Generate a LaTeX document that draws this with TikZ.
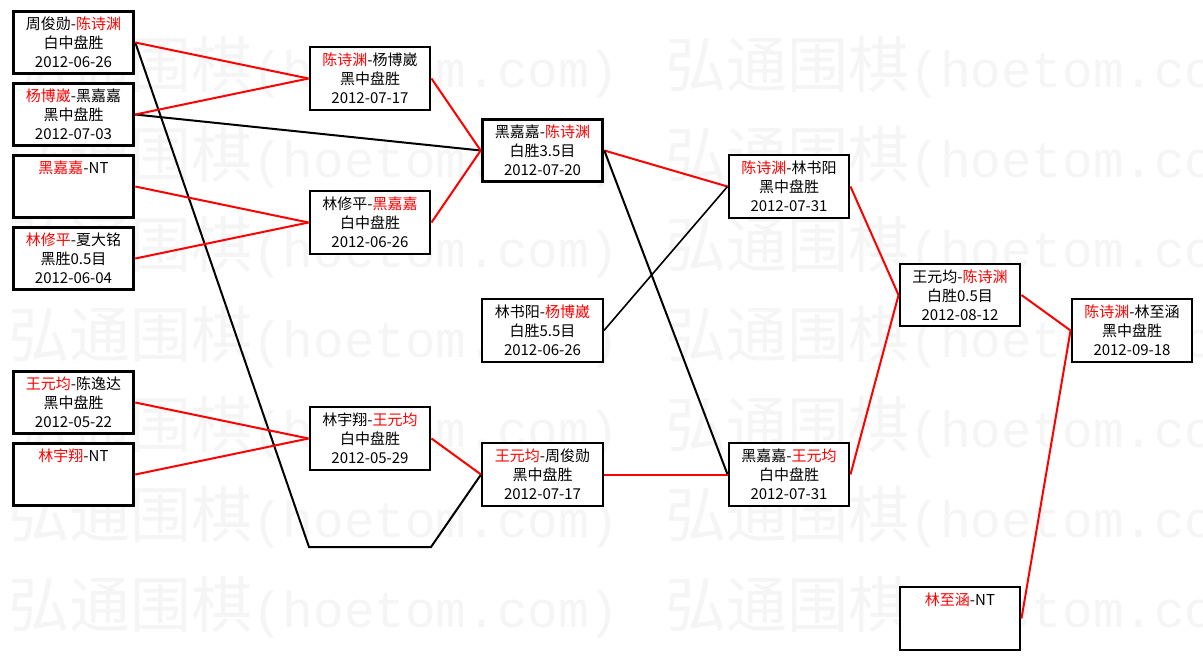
\documentclass[tikz,border=0pt]{standalone}
\usepackage{fontspec}
\setmainfont{Noto Sans CJK SC}
\newfontfamily\wmmono{Liberation Mono}
\definecolor{wred}{RGB}{255,0,0}
\definecolor{wmark}{RGB}{245,245,245}
\newcommand{\rn}[1]{\textcolor{wred}{#1}}
\newcommand{\wmtile}{弘通围棋{\wmmono\fontsize{38.25pt}{40pt}\selectfont(hoetom.com)}}
\begin{document}
\begin{tikzpicture}[x=0.75pt,y=-0.75pt,
  mbox/.style={draw=black, fill=white, line width=1.7pt, minimum width=90.5pt, minimum height=47pt,
    inner sep=0pt, align=center, font=\fontsize{11.25pt}{14.25pt}\selectfont},
  tbox/.style={mbox, line width=2.2pt},
  rl/.style={draw=wred, line width=1.5pt},
  bl/.style={draw=black, line width=1.5pt, line join=miter},
  wmtext/.style={anchor=west, text=wmark, inner sep=0pt, font=\fontsize{45.75pt}{50pt}\selectfont}
]
\path[fill=white] (0,0) rectangle (1203,661);
\useasboundingbox (0,0) rectangle (1203,661);

% watermark
\foreach \i/\yy in {1/67,2/157,3/247,4/337,5/427,6/517,7/607}
  \node[wmtext] (wm\i) at (8,\yy) {\wmtile\hspace{34.5pt}\wmtile};

% column A
\node[tbox] (a1) at (73.5,42.5) {周俊勋-\rn{陈诗渊}\\白中盘胜\\2012-06-26};
\node[tbox] (a2) at (73.5,114.5) {\rn{杨博崴}-黑嘉嘉\\黑中盘胜\\2012-07-03};
\node[tbox] (a3) at (73.5,186.5) {\rn{黑嘉嘉}-NT\\\phantom{白}\\\phantom{白}};
\node[tbox] (a4) at (73.5,258.5) {\rn{林修平}-夏大铭\\黑胜0.5目\\2012-06-04};
\node[tbox] (a5) at (73.5,402.5) {\rn{王元均}-陈逸达\\黑中盘胜\\2012-05-22};
\node[tbox] (a6) at (73.5,474.5) {\rn{林宇翔}-NT\\\phantom{白}\\\phantom{白}};

% column B
\node[mbox] (b1) at (370,78.5) {\rn{陈诗渊}-杨博崴\\黑中盘胜\\2012-07-17};
\node[mbox] (b2) at (370,222.5) {林修平-\rn{黑嘉嘉}\\白中盘胜\\2012-06-26};
\node[mbox] (b3) at (370,438.5) {林宇翔-\rn{王元均}\\白中盘胜\\2012-05-29};

% column C
\node[tbox] (c1) at (542.5,150.5) {黑嘉嘉-\rn{陈诗渊}\\白胜3.5目\\2012-07-20};
\node[mbox] (c2) at (542.5,330.5) {林书阳-\rn{杨博崴}\\白胜5.5目\\2012-06-26};
\node[mbox] (c3) at (542.5,474.5) {\rn{王元均}-周俊勋\\黑中盘胜\\2012-07-17};

% column D
\node[mbox] (d1) at (789,186.5) {\rn{陈诗渊}-林书阳\\黑中盘胜\\2012-07-31};
\node[mbox] (d2) at (789,474.5) {黑嘉嘉-\rn{王元均}\\白中盘胜\\2012-07-31};

% column E
\node[mbox] (e1) at (960,295) {王元均-\rn{陈诗渊}\\白胜0.5目\\2012-08-12};
\node[mbox] (e2) at (960,618.5) {\rn{林至涵}-NT\\\phantom{白}\\\phantom{白}};

% column F
\node[mbox] (f1) at (1132,330.5) {\rn{陈诗渊}-林至涵\\黑中盘胜\\2012-09-18};

% connectors
\coordinate (p1) at (309,547);
\coordinate (p2) at (431,547);
\draw[bl] (a1.east) -- (p1) -- (p2) -- (c3.west);
\draw[bl] (a2.east) -- (c1.west);
\draw[rl] (a1.east) -- (b1.west);
\draw[rl] (a2.east) -- (b1.west);
\draw[rl] (a3.east) -- (b2.west);
\draw[rl] (a4.east) -- (b2.west);
\draw[rl] (b1.east) -- (c1.west);
\draw[rl] (b2.east) -- (c1.west);
\draw[rl] (a5.east) -- (b3.west);
\draw[rl] (a6.east) -- (b3.west);
\draw[rl] (b3.east) -- (c3.west);
\draw[rl] (c1.east) -- (d1.west);
\draw[bl] (c1.east) -- (d2.west);
\draw[bl, line width=1.2pt] (c2.east) -- (d1.west);
\draw[rl] (c3.east) -- (d2.west);
\draw[rl] (d1.east) -- (e1.west);
\draw[rl] (d2.east) -- (e1.west);
\draw[rl] (e1.east) -- (f1.west);
\draw[rl] (e2.east) -- (f1.west);
\end{tikzpicture}
\end{document}
